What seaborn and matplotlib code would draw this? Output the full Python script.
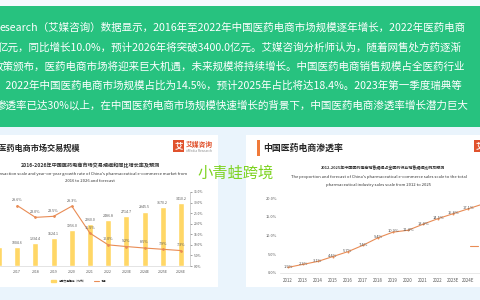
import matplotlib
matplotlib.use("Agg")
import matplotlib.pyplot as plt
from matplotlib.patches import Rectangle, Patch
from matplotlib.lines import Line2D
import seaborn as sns

# ---- data ----
intro_lines = [
    "esearch（艾媒咨询）数据显示，2016年至2022年中国医药电商市场规模逐年增长，2022年医药电商",
    "亿元，同比增长10.0%，预计2026年将突破3400.0亿元。艾媒咨询分析师认为，随着网售处方药逐渐",
    "政策颁布，医药电商市场将迎来巨大机遇，未来规模将持续增长。中国医药电商销售规模占全医药行业",
    "，2022年中国医药电商市场规模占比为14.5%，预计2025年占比将达18.4%。2023年第一季度瑞典等",
    "渗透率已达30%以上，在中国医药电商市场规模快速增长的背景下，中国医药电商渗透率增长潜力巨大",
]

market_years = ["2016", "2017", "2018", "2019", "2020", "2021", "2022",
                "2023E", "2024E", "2025E", "2026E"]
market_sales = [1014.0, 1004.6, 1234.4, 1524.1, 1956.0, 2260.0, 2486.8,
                2714.7, 2945.5, 3170.2, 3410.2]
growth_years = market_years[1:]
growth_rate = [28.6, 23.0, 23.5, 28.3, 15.5, 10.0, 9.2, 8.5, 7.9, 7.3]

pen_years = ["2012", "2013", "2014", "2015", "2016", "2017", "2018", "2019",
             "2020", "2021", "2022", "2023E", "2024E", "2025E"]
pen_rate = [1.5, 2.3, 3.1, 4.4, 5.7, 7.4, 9.4, 10.9, 11.4, 13.0, 14.5,
            15.8, 17.1, 18.4]

# ---- style ----
sns.set_style("white")
plt.rcParams["font.family"] = ["Noto Sans CJK SC", "DejaVu Sans"]

W, H = 480, 300
fx = lambda x: x / W
fy = lambda y: 1 - y / H

BAR = "#ffd766"
LINE = "#e98c55"
RED = "#e0522d"
GRAY = "#595959"

fig = plt.figure(figsize=(4.8, 3.0), dpi=100, facecolor="#eaf4fc")


def rect(x0, y0, x1, y1, color):
    fig.add_artist(Rectangle((fx(x0), fy(y1)), fx(x1 - x0), (y1 - y0) / H,
                             transform=fig.transFigure, color=color,
                             zorder=-5, lw=0))


rect(0, 0, 480, 6, "#f4f9fd")
rect(0, 6, 480, 127, "#27c27f")
rect(0, 135, 218, 287, "white")
rect(246, 135, 480, 287, "white")

for i, line in enumerate(intro_lines):
    x0 = [0, -2, -7, -4, -4][i]
    fig.text(fx(x0), fy(28 + i * 19.3), line, color="white", fontsize=7.6,
             ha="left", va="center")

# ---- left panel headers ----
fig.text(fx(80), fy(148), "中国医药电商市场交易规模", fontsize=5.9,
         fontweight="bold", color="#262626", ha="right", va="center")
rect(173, 140, 184, 152, RED)
fig.text(fx(178.5), fy(146), "艾", color="white", fontsize=6,
         fontweight="bold", ha="center", va="center")
fig.text(fx(186), fy(144.5), "艾媒咨询", color=RED, fontsize=4.9,
         fontweight="bold", ha="left", va="center")
fig.text(fx(186), fy(151), "iiMedia Research", color="#8c8c8c", fontsize=2.4,
         ha="left", va="center")
fig.text(fx(90), fy(165), "2016-2026年中国医药电商市场交易规模和同比增长率及预测",
         fontsize=3.7, fontweight="bold", color="#333333", ha="center", va="center")
fig.text(fx(90), fy(173.5),
         "Transaction scale and year-on-year growth rate of China's pharmaceutical e-commerce market from",
         fontsize=3.0, color="#333333", ha="center", va="center")
fig.text(fx(90), fy(181), "2016 to 2026 and forecast",
         fontsize=3.0, color="#333333", ha="center", va="center")

# ---- left chart ----
ax1 = fig.add_axes([fx(0), fy(266), fx(190), 74 / H])
ax1.set_facecolor("none")
sns.barplot(x=market_years, y=market_sales, order=market_years, color=BAR,
            saturation=1, width=0.33, ax=ax1)
ax1.bar_label(ax1.containers[0], fmt="%.1f", fontsize=2.6, color=GRAY,
              padding=1.5)
ax1.set_ylim(0, 4000)
ax1.set_yticks([])
ax1.set_xlabel("")
ax1.set_ylabel("")
ax1.tick_params(axis="x", labelsize=2.6, colors=GRAY, length=0, pad=3)
for s in ["top", "left", "right"]:
    ax1.spines[s].set_visible(False)
ax1.spines["bottom"].set_color("#d9d9d9")
ax1.spines["bottom"].set_linewidth(0.5)

ax2 = ax1.twinx()
sns.pointplot(x=growth_years, y=growth_rate, order=market_years, color=LINE,
              markersize=1.3, linewidth=0.8, ax=ax2)
for xi, v in zip(growth_years, growth_rate):
    ax2.annotate(f"{v:.1f}%", (market_years.index(xi), v), xytext=(0, 4),
                 textcoords="offset points", ha="center", va="center",
                 fontsize=2.7, color=GRAY)
ax2.set_ylim(0, 35)
ax2.set_yticks(range(0, 40, 5))
ax2.set_yticklabels([f"{t:.1f}%" for t in range(0, 40, 5)])
ax2.set_ylabel("")
ax2.tick_params(axis="y", labelsize=2.4, colors=GRAY, length=1.5, width=0.4,
                pad=1.5)
for s in ["top", "left", "bottom"]:
    ax2.spines[s].set_visible(False)
ax2.spines["right"].set_color("#bfbfbf")
ax2.spines["right"].set_linewidth(0.5)
ax1.set_xlim(0.055, 10.49)
ax2.set_xlim(0.055, 10.49)

fig.legend(handles=[Patch(color=BAR), Line2D([], [], color=LINE, lw=0.8)],
           labels=["电商交易规模（亿元）", "增速"], ncol=2, frameon=False,
           fontsize=2.0, loc="center", bbox_to_anchor=(fx(79), fy(281)),
           handlelength=1.8, handleheight=0.9, columnspacing=3)

# ---- right panel headers ----
rect(257, 140, 259.5, 156, "#f07a3a")
fig.text(fx(263), fy(148), "中国医药电商渗透率", fontsize=6.4,
         fontweight="bold", color="#262626", ha="left", va="center")
rect(474, 140, 486, 152, RED)
fig.text(fx(480), fy(146), "艾", color="white", fontsize=6,
         fontweight="bold", ha="center", va="center")
fig.text(fx(383), fy(168), "2012-2025年中国医药电商销售规模占全医药行业销售规模比例及预测",
         fontsize=2.9, fontweight="bold", color="#333333", ha="center", va="center")
fig.text(fx(379), fy(177),
         "The proportion and forecast of China's pharmaceutical e-commerce sales scale to the total",
         fontsize=3.0, color="#333333", ha="center", va="center")
fig.text(fx(379), fy(185), "pharmaceutical industry sales scale from 2012 to 2025",
         fontsize=3.0, color="#333333", ha="center", va="center")

# ---- right chart ----
ax3 = fig.add_axes([fx(280), fy(273), fx(200), 75 / H])
ax3.set_facecolor("none")
sns.pointplot(x=pen_years, y=pen_rate, order=pen_years, color=LINE,
              markersize=0.8, linewidth=0.8, ax=ax3)
for i, v in enumerate(pen_rate):
    ax3.annotate(f"{v:.1f}%", (i, v), xytext=(0, 0.5),
                 textcoords="offset points", ha="center", va="center",
                 fontsize=2.9, color=GRAY)
ax3.set_ylim(0, 20)
ax3.set_yticks(range(0, 25, 5))
ax3.set_yticklabels([f"{t:.1f}%" for t in range(0, 25, 5)])
ax3.set_xlim(-0.533, 12.8)
ax3.set_xlabel("")
ax3.set_ylabel("")
ax3.tick_params(axis="x", labelsize=3.2, colors=GRAY, length=0, pad=3.5)
ax3.tick_params(axis="y", labelsize=2.8, colors=GRAY, length=0, pad=2)
for s in ["top", "left", "right"]:
    ax3.spines[s].set_visible(False)
ax3.spines["bottom"].set_color("#e0e0e0")
ax3.spines["bottom"].set_linewidth(0.5)
ax3.legend(handles=[Line2D([], [], color=LINE, lw=0.8)], labels=["渗透率"],
           loc="center left", bbox_to_anchor=(fx(466), fy(246)),
           bbox_transform=fig.transFigure, frameon=False, fontsize=3.5,
           handlelength=1.6, handletextpad=0.4)

# ---- watermark ----
fig.text(fx(197), fy(173), "小青蛙跨境", color="#7dd321", fontsize=11,
         ha="left", va="center")

fig.savefig("out.png", dpi=100)
